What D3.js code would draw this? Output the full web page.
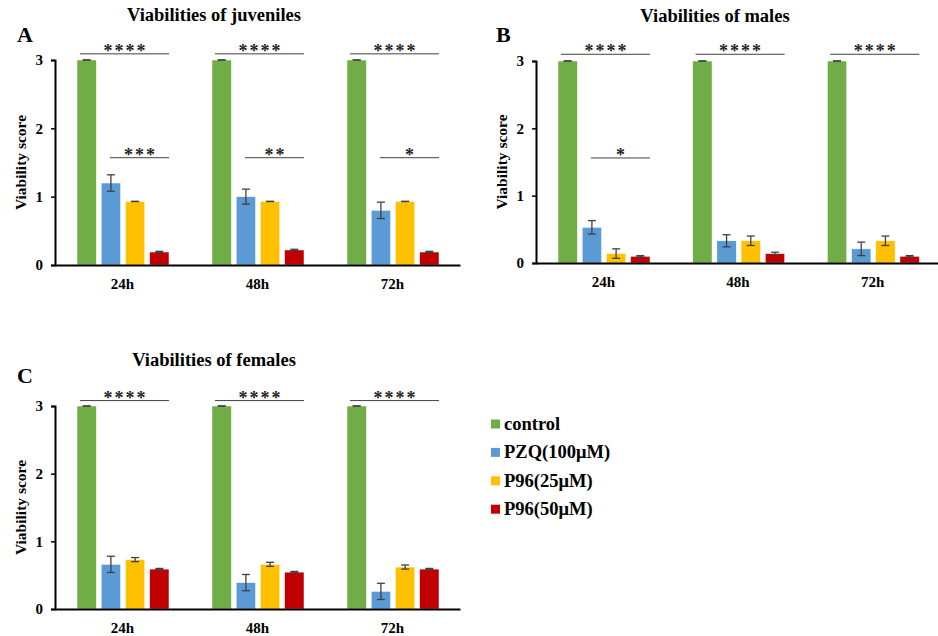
<!DOCTYPE html>
<html>
<head>
<meta charset="utf-8">
<script src="https://cdn.jsdelivr.net/npm/d3@7"></script>
<style>
  body { margin: 0; background: #fff; }
  svg { display: block; }
  svg text { font-family: "Liberation Serif", "DejaVu Serif", serif; }
</style>
</head>
<body>
<div id="chart"></div>
<script>
// time points and treatments
const groups = ["24h", "48h", "72h"];
const seriesNames = ["control", "PZQ(100μM)", "P96(25μM)", "P96(50μM)"];
const seriesColors = ["#70AD47", "#5B9BD5", "#FFC000", "#C00000"];
const yTicks = [0, 1, 2, 3];

// juveniles: [control, PZQ, P96-25, P96-50] per time point
const juvenileMeans = [[3, 1.2, 0.93, 0.19], [3, 1.0, 0.93, 0.22], [3, 0.8, 0.93, 0.19]];
const juvenileErrs  = [[0, 0.12, 0, 0.01], [0, 0.11, 0, 0.01], [0, 0.12, 0, 0.01]];
const juvenileSig = [
  { group: "24h", from: 0, to: 3, y: 3.09, label: "****" },
  { group: "48h", from: 0, to: 3, y: 3.09, label: "****" },
  { group: "72h", from: 0, to: 3, y: 3.09, label: "****" },
  { group: "24h", from: 1, to: 3, y: 1.57, label: "***" },
  { group: "48h", from: 1, to: 3, y: 1.57, label: "**" },
  { group: "72h", from: 1, to: 3, y: 1.57, label: "*" }
];

// males
const maleMeans = [[3, 0.53, 0.14, 0.1], [3, 0.33, 0.33, 0.14], [3, 0.21, 0.33, 0.1]];
const maleErrs  = [[0, 0.1, 0.07, 0.01], [0, 0.09, 0.07, 0.02], [0, 0.1, 0.07, 0.01]];
const maleSig = [
  { group: "24h", from: 0, to: 3, y: 3.1, label: "****" },
  { group: "48h", from: 0, to: 3, y: 3.1, label: "****" },
  { group: "72h", from: 0, to: 3, y: 3.1, label: "****" },
  { group: "24h", from: 1, to: 3, y: 1.56, label: "*" }
];

// females
const femaleMeans = [[3, 0.66, 0.73, 0.59], [3, 0.39, 0.66, 0.545], [3, 0.26, 0.62, 0.59]];
const femaleErrs  = [[0, 0.12, 0.03, 0.01], [0, 0.12, 0.03, 0.01], [0, 0.12, 0.03, 0.01]];
const femaleSig = [
  { group: "24h", from: 0, to: 3, y: 3.08, label: "****" },
  { group: "48h", from: 0, to: 3, y: 3.08, label: "****" },
  { group: "72h", from: 0, to: 3, y: 3.08, label: "****" }
];

const serif = "'Liberation Serif', 'DejaVu Serif', serif";

const svg = d3.select("#chart").append("svg")
  .attr("width", 938)
  .attr("height", 636)
  .attr("font-family", serif);

// panel placement on the page
const panels = [
  { letter: "A", title: "Viabilities of juveniles", means: juvenileMeans, errs: juvenileErrs, sig: juvenileSig,
    left: 55, right: 460, top: 60, bottom: 265, titleX: 214, titleY: 21, letterX: 17, letterY: 42, ylabX: 21 },
  { letter: "B", title: "Viabilities of males", means: maleMeans, errs: maleErrs, sig: maleSig,
    left: 536, right: 940, top: 61, bottom: 263, titleX: 715, titleY: 22, letterX: 496, letterY: 42, ylabX: 502 },
  { letter: "C", title: "Viabilities of females", means: femaleMeans, errs: femaleErrs, sig: femaleSig,
    left: 55, right: 460, top: 406, bottom: 609, titleX: 214, titleY: 366, letterX: 17, letterY: 383, ylabX: 21 }
];

panels.forEach(p => {
  const g = svg.append("g");

  const x0 = d3.scaleBand().domain(groups).range([p.left, p.right]);
  const x1 = d3.scaleBand().domain(d3.range(seriesNames.length))
    .range([22, 114]).paddingInner(0.2);
  const y = d3.scaleLinear().domain([0, 3]).range([p.bottom, p.top]);
  const bw = x1.bandwidth();

  // bars
  groups.forEach((gr, gi) => {
    const gg = g.append("g").attr("transform", `translate(${x0(gr)},0)`);
    p.means[gi].forEach((v, si) => {
      gg.append("rect")
        .attr("x", x1(si))
        .attr("y", y(v))
        .attr("width", bw)
        .attr("height", y(0) - y(v))
        .attr("fill", seriesColors[si])
        .attr("stroke", "#fff").attr("stroke-width", 0.5);

      // error bar
      const e = p.errs[gi][si];
      const cx = x1(si) + bw / 2;
      gg.append("line")
        .attr("x1", cx).attr("x2", cx)
        .attr("y1", y(v + e)).attr("y2", y(v - e))
        .attr("stroke", "#404040").attr("stroke-width", 1.3);
      [v + e, v - e].forEach(t => {
        gg.append("line")
          .attr("x1", cx - 4).attr("x2", cx + 4)
          .attr("y1", y(t)).attr("y2", y(t))
          .attr("stroke", "#404040").attr("stroke-width", 1.3);
      });
    });
  });

  // y axis
  g.append("g")
    .attr("transform", `translate(${p.left},0)`)
    .call(d3.axisLeft(y).tickValues(yTicks).tickFormat(d3.format("d")).tickSize(4).tickPadding(8))
    .call(a => a.attr("font-family", serif))
    .call(a => a.select(".domain").attr("stroke-width", 2))
    .call(a => a.selectAll(".tick line").attr("stroke-width", 1.5))
    .call(a => a.selectAll("text")
      .attr("font-size", 15).attr("font-weight", "bold").attr("fill", "#000"));

  // x axis
  g.append("g")
    .attr("transform", `translate(0,${p.bottom})`)
    .call(d3.axisBottom(x0).tickSize(0).tickPadding(13).tickSizeOuter(0))
    .call(a => a.attr("font-family", serif))
    .call(a => a.select(".domain").attr("stroke-width", 2))
    .call(a => a.selectAll("text")
      .attr("font-size", 15).attr("font-weight", "bold").attr("fill", "#000"));

  // significance brackets
  p.sig.forEach(s => {
    const gx = x0(s.group);
    const xa = gx + x1(s.from) + bw * (s.from === 0 ? 0.15 : 0.45);
    const xb = gx + x1(s.to) + bw;
    g.append("line")
      .attr("x1", xa).attr("x2", xb)
      .attr("y1", y(s.y)).attr("y2", y(s.y))
      .attr("stroke", "#404040").attr("stroke-width", 1);
    g.append("text")
      .attr("x", (xa + xb) / 2 + 1)
      .attr("y", y(s.y) + 3)
      .attr("text-anchor", "middle")
      .attr("font-size", 18)
      .attr("font-weight", "bold")
      .attr("letter-spacing", 2)
      .attr("fill", "#222")
      .text(s.label);
  });

  // titles and labels
  g.append("text")
    .attr("x", p.titleX).attr("y", p.titleY)
    .attr("text-anchor", "middle")
    .attr("font-size", 18.5).attr("font-weight", "bold")
    .text(p.title);

  g.append("text")
    .attr("x", p.letterX).attr("y", p.letterY)
    .attr("font-size", 22).attr("font-weight", "bold")
    .text(p.letter);

  g.append("text")
    .attr("transform", `translate(${p.ylabX + 5},${(p.top + p.bottom) / 2}) rotate(-90)`)
    .attr("text-anchor", "middle")
    .attr("font-size", 15.5).attr("font-weight", "bold")
    .text("Viability score");
});

// legend
const legend = svg.append("g").attr("transform", "translate(491,424)");
seriesNames.forEach((name, i) => {
  const row = legend.append("g").attr("transform", `translate(0,${i * 28.4})`);
  row.append("rect")
    .attr("x", 0).attr("y", -4.5)
    .attr("width", 9).attr("height", 9)
    .attr("fill", seriesColors[i]);
  row.append("text")
    .attr("x", 13).attr("y", 6)
    .attr("font-size", 18.5).attr("font-weight", "bold")
    .text(name);
});
</script>
</body>
</html>
